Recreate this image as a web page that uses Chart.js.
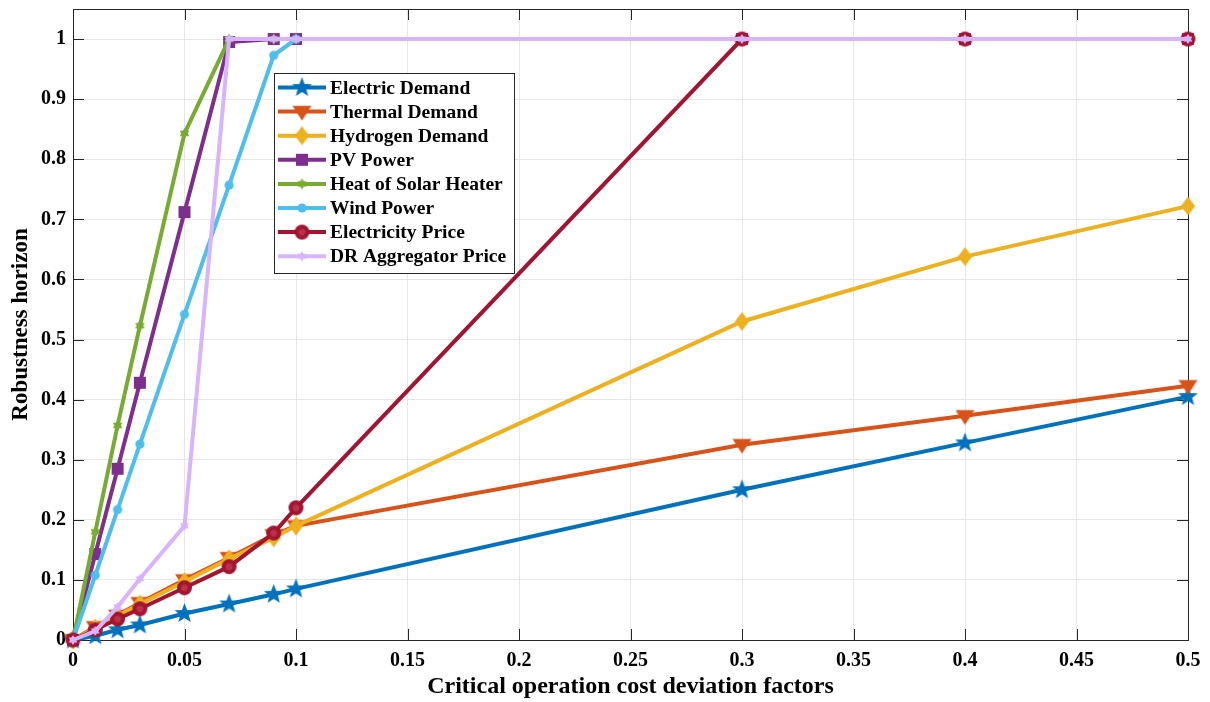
<!DOCTYPE html>
<html>
<head>
<meta charset="utf-8">
<script src="https://cdn.jsdelivr.net/npm/chart.js@4.4.1/dist/chart.umd.min.js"></script>
<style>
  html, body { margin: 0; padding: 0; background: #fff; }
  #wrap { width: 1210px; height: 702px; }
</style>
</head>
<body>
<div id="wrap"><canvas id="c" width="1210" height="702"></canvas></div>
<script>
// ---------------- data ----------------
const xValues = [0, 0.01, 0.02, 0.03, 0.05, 0.07, 0.09, 0.1, 0.3, 0.4, 0.5];

const electricDemand   = [0, 0.007, 0.017, 0.025, 0.044, 0.060, 0.076, 0.085, 0.250, 0.328, 0.405];
const thermalDemand    = [0, 0.022, 0.041, 0.062, 0.100, 0.137, 0.175, 0.190, 0.325, 0.373, 0.423];
const hydrogenDemand   = [0, 0.020, 0.040, 0.060, 0.097, 0.135, 0.170, 0.190, 0.530, 0.638, 0.722];
const pvPower          = [0, 0.143, 0.285, 0.428, 0.712, 0.995, 1, 1, 1, 1, 1];
const solarHeater      = [0, 0.180, 0.357, 0.523, 0.843, 1, 1, 1, 1, 1, 1];
const windPower        = [0, 0.108, 0.217, 0.326, 0.542, 0.757, 0.973, 1, 1, 1, 1];
const electricityPrice = [0, 0.017, 0.035, 0.052, 0.087, 0.122, 0.178, 0.220, 1, 1, 1];
const drAggregator     = [0, 0.015, 0.055, 0.102, 0.190, 1, 1, 1, 1, 1, 1];

const seriesNames = ['Electric Demand', 'Thermal Demand', 'Hydrogen Demand', 'PV Power',
                     'Heat of Solar Heater', 'Wind Power', 'Electricity Price', 'DR Aggregator Price'];
const seriesValues = [electricDemand, thermalDemand, hydrogenDemand, pvPower,
                      solarHeater, windPower, electricityPrice, drAggregator];

const xTickValues = [0, 0.05, 0.1, 0.15, 0.2, 0.25, 0.3, 0.35, 0.4, 0.45, 0.5];
const yTickValues = [0, 0.1, 0.2, 0.3, 0.4, 0.5, 0.6, 0.7, 0.8, 0.9, 1];

const xTitle = 'Critical operation cost deviation factors';
const yTitle = 'Robustness horizon';

// ---------------- styles ----------------
const colors = ['#0072BD', '#D95319', '#EDB120', '#7E2F8E', '#77AC30', '#4DBEEE', '#A2142F', '#D8B4FC'];
const shapes = [
  {type: 'star5', r: 10.5},
  {type: 'tri',   r: 9.5},
  {type: 'diamond', r: 9.5},
  {type: 'square', r: 6},
  {type: 'hex',   r: 5.5},
  {type: 'circle', r: 4.6},
  {type: 'ring',  r: 7.5},
  {type: 'hex',   r: 5}
];

function makeMarker(shape, color) {
  const r = shape.r;
  const s = Math.ceil(r * 2 + 4);
  const cv = document.createElement('canvas');
  cv.width = s; cv.height = s;
  const c = cv.getContext('2d');
  c.translate(s / 2, s / 2);
  c.fillStyle = color;
  c.strokeStyle = color;
  c.lineWidth = 1.2;
  c.beginPath();
  if (shape.type === 'star5') {
    for (let i = 0; i < 10; i++) {
      const rad = i % 2 === 0 ? r : r * 0.42;
      const a = -Math.PI / 2 + i * Math.PI / 5;
      const px = rad * Math.cos(a), py = rad * Math.sin(a);
      i === 0 ? c.moveTo(px, py) : c.lineTo(px, py);
    }
    c.closePath(); c.fill();
  } else if (shape.type === 'tri') {
    c.moveTo(-r, -r * 0.6); c.lineTo(r, -r * 0.6); c.lineTo(0, r * 0.95); c.closePath(); c.fill();
  } else if (shape.type === 'diamond') {
    c.moveTo(0, -r); c.lineTo(r * 0.75, 0); c.lineTo(0, r); c.lineTo(-r * 0.75, 0); c.closePath(); c.fill();
  } else if (shape.type === 'square') {
    c.rect(-r, -r, 2 * r, 2 * r); c.fill();
  } else if (shape.type === 'hex') {
    for (let i = 0; i < 12; i++) {
      const rad = i % 2 === 0 ? r : r * 0.6;
      const a = -Math.PI / 2 + i * Math.PI / 6;
      const px = rad * Math.cos(a), py = rad * Math.sin(a);
      i === 0 ? c.moveTo(px, py) : c.lineTo(px, py);
    }
    c.closePath(); c.fill();
  } else if (shape.type === 'circle') {
    c.arc(0, 0, r, 0, Math.PI * 2); c.fill();
  } else if (shape.type === 'ring') {
    c.arc(0, 0, r, 0, Math.PI * 2); c.fill();
    c.beginPath(); c.fillStyle = '#b8324a';
    c.arc(0, 0, r * 0.45, 0, Math.PI * 2); c.fill();
  }
  return cv;
}

const markers = shapes.map((sh, i) => makeMarker(sh, colors[i]));

const datasets = seriesNames.map((name, i) => ({
  label: name,
  data: xValues.map((x, j) => ({x: x, y: seriesValues[i][j]})),
  borderColor: colors[i],
  backgroundColor: colors[i],
  borderWidth: 4,
  pointStyle: markers[i],
  pointRadius: shapes[i].r,
  pointHoverRadius: shapes[i].r,
  tension: 0,
  clip: false,
  order: seriesNames.length - i
}));

const FONT = "'Liberation Serif', 'Times New Roman', serif";

// box + inward ticks plugin
const boxPlugin = {
  id: 'boxPlugin',
  beforeDatasetsDraw(chart) {
    const {ctx, chartArea: a, scales} = chart;
    ctx.save();
    ctx.strokeStyle = '#262626';
    ctx.lineWidth = 1;
    const tl = 11;
    ctx.beginPath();
    xTickValues.forEach(v => {
      const px = Math.round(scales.x.getPixelForValue(v)) + 0.5;
      ctx.moveTo(px, a.bottom); ctx.lineTo(px, a.bottom - tl);
      ctx.moveTo(px, a.top); ctx.lineTo(px, a.top + tl);
    });
    yTickValues.forEach(v => {
      const py = Math.round(scales.y.getPixelForValue(v)) + 0.5;
      ctx.moveTo(a.left, py); ctx.lineTo(a.left + tl, py);
      ctx.moveTo(a.right, py); ctx.lineTo(a.right - tl, py);
    });
    ctx.stroke();
    ctx.strokeRect(Math.round(a.left) + 0.5, Math.round(a.top) + 0.5,
                   Math.round(a.right - a.left), Math.round(a.bottom - a.top));
    ctx.restore();
  }
};

// legend plugin (inside axes, north-west)
const legendPlugin = {
  id: 'legendBox',
  afterDatasetsDraw(chart) {
    const {ctx} = chart;
    const bx = 274, by = 73, bw = 240, bh = 200;
    const rowH = 24.1, firstY = 87.5;
    ctx.save();
    ctx.fillStyle = '#ffffff';
    ctx.fillRect(bx, by, bw, bh);
    ctx.strokeStyle = '#262626';
    ctx.lineWidth = 1;
    ctx.strokeRect(bx + 0.5, by + 0.5, bw, bh);
    ctx.font = "bold 19.5px " + FONT;
    ctx.textBaseline = 'middle';
    ctx.textAlign = 'left';
    chart.data.datasets.forEach((ds, i) => {
      const y = firstY + i * rowH;
      ctx.strokeStyle = ds.borderColor;
      ctx.lineWidth = 4;
      ctx.beginPath();
      ctx.moveTo(bx + 4, y); ctx.lineTo(bx + 52, y);
      ctx.stroke();
      const m = ds.pointStyle;
      ctx.drawImage(m, bx + 28 - m.width / 2, y - m.height / 2);
      ctx.fillStyle = '#000';
      ctx.fillText(ds.label, bx + 56, y + 1);
    });
    ctx.restore();
  }
};

new Chart(document.getElementById('c'), {
  type: 'line',
  data: {datasets},
  plugins: [boxPlugin, legendPlugin],
  options: {
    responsive: false,
    animation: false,
    devicePixelRatio: 1,
    layout: {autoPadding: false, padding: {left: 0, right: 22, top: 9, bottom: 0}},
    plugins: {legend: {display: false}, tooltip: {enabled: false}},
    scales: {
      x: {
        type: 'linear',
        min: 0, max: 0.5,
        afterBuildTicks: s => { s.ticks = xTickValues.map(v => ({value: v})); },
        afterFit: s => { s.height = 62; s.paddingLeft = 0; s.paddingRight = 0; },
        ticks: {
          color: '#000',
          padding: 9,
          maxRotation: 0,
          autoSkip: false,
          font: {family: FONT, size: 20, weight: 'bold'},
          callback: v => String(Number(v.toFixed(2)))
        },
        grid: {color: '#e6e6e6', lineWidth: 1, drawTicks: false},
        border: {display: false},
        title: {display: true, text: xTitle, color: '#000',
                font: {family: FONT, size: 24, weight: 'bold'}, padding: {top: 0, bottom: 1}}
      },
      y: {
        type: 'linear',
        min: 0, max: 1.05,
        afterBuildTicks: s => { s.ticks = yTickValues.map(v => ({value: v})); },
        afterFit: s => { s.width = 73; s.paddingTop = 0; s.paddingBottom = 0; },
        ticks: {
          color: '#000',
          padding: 7,
          autoSkip: false,
          font: {family: FONT, size: 20, weight: 'bold'},
          callback: v => String(Number(v.toFixed(2)))
        },
        grid: {color: '#e6e6e6', lineWidth: 1, drawTicks: false},
        border: {display: false},
        title: {display: true, text: yTitle, color: '#000',
                font: {family: FONT, size: 23, weight: 'bold'}, padding: {top: 7, bottom: 0}}
      }
    }
  }
});
</script>
</body>
</html>
